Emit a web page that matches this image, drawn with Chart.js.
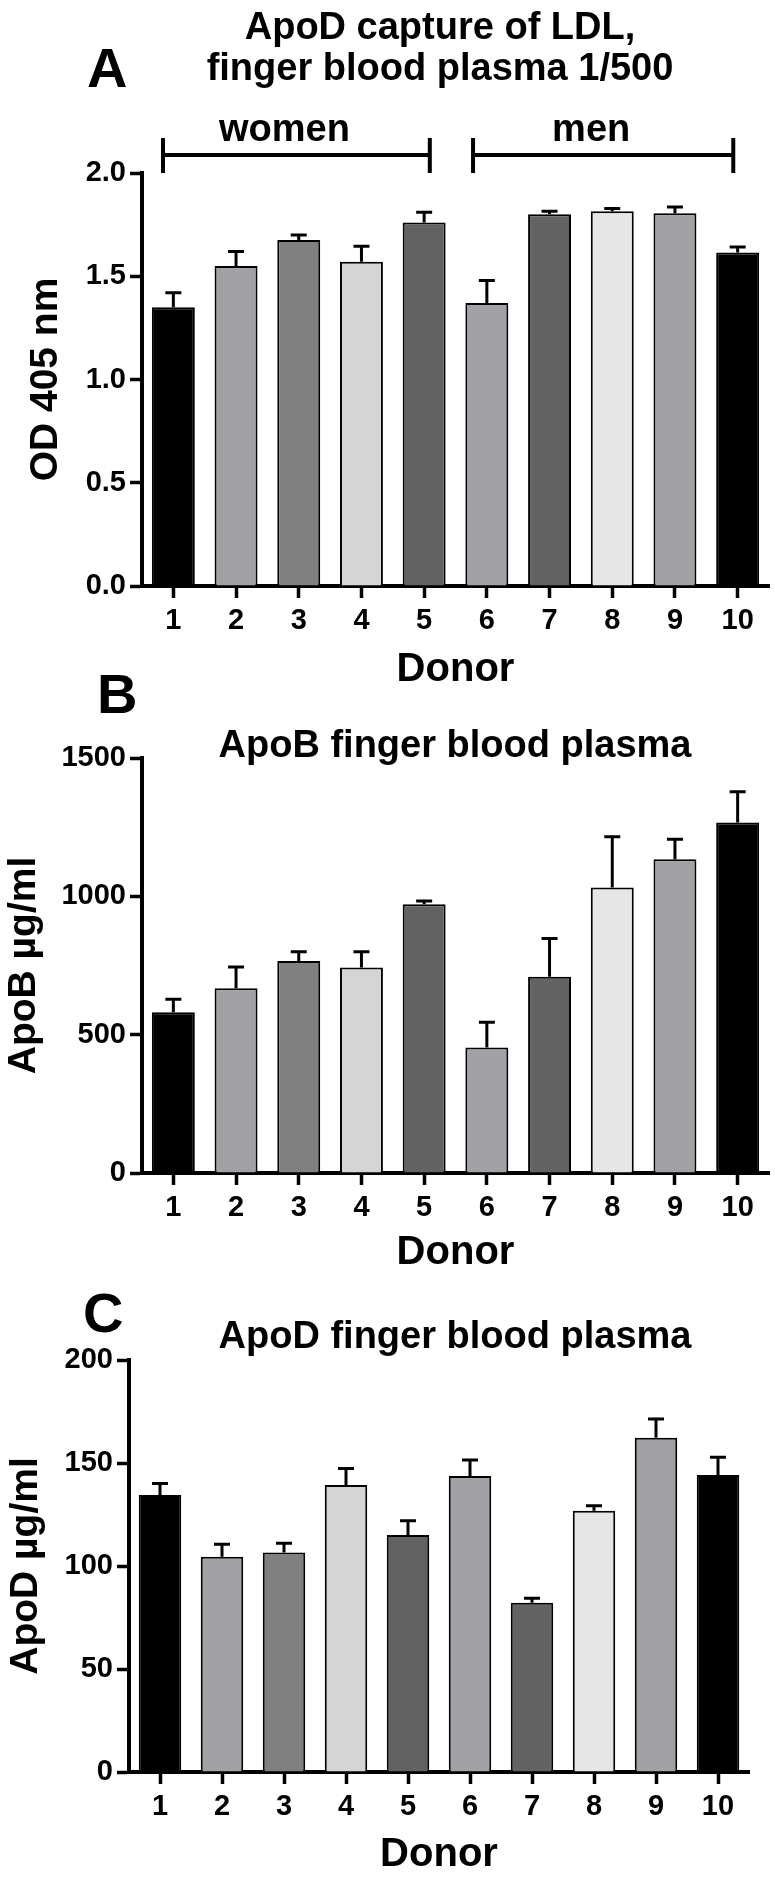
<!DOCTYPE html>
<html>
<head>
<meta charset="utf-8">
<title>ApoD / ApoB finger blood plasma</title>
<script src="https://cdn.jsdelivr.net/npm/chart.js@4.4.1/dist/chart.umd.min.js"></script>
<style>
  html, body { margin: 0; padding: 0; background: #fff; }
  #wrap { position: relative; width: 775px; height: 1880px; }
  canvas { position: absolute; left: 0; }
</style>
</head>
<body>
<div id="wrap">
  <canvas id="chartA" width="775" height="700" style="top:0"></canvas>
  <canvas id="chartB" width="775" height="640" style="top:640px"></canvas>
  <canvas id="chartC" width="775" height="600" style="top:1280px"></canvas>
</div>
<script>
const FONT = '"Liberation Sans", Arial, Helvetica, sans-serif';

// donors and bar fill per donor
const donors = ['1', '2', '3', '4', '5', '6', '7', '8', '9', '10'];
const barColors = ['#000000', '#a2a2a6', '#808080', '#d5d5d5', '#626262',
                   '#a2a2a6', '#636363', '#e6e6e6', '#a2a2a6', '#000000'];

// A: ApoD capture of LDL (OD 405 nm), mean and upper error
const odMean = [1.35, 1.55, 1.675, 1.57, 1.76, 1.37, 1.80, 1.815, 1.805, 1.615];
const odErr  = [0.07, 0.07, 0.025, 0.075, 0.05, 0.11, 0.015, 0.013, 0.03, 0.027];
const odTicks = [0, 0.5, 1.0, 1.5, 2.0];

// women / men brackets (category positions)
const groupNames = ['women', 'men'];
const groupFrom = [-0.165, 4.78];
const groupTo = [4.09, 8.93];

// B: ApoB µg/ml
const apoBMean = [581, 668, 766, 743, 971, 454, 709, 1032, 1134, 1267];
const apoBErr  = [47, 77, 34, 57, 12, 91, 139, 183, 72, 111];
const apoBTicks = [0, 500, 1000, 1500];

// C: ApoD µg/ml
const apoDMean = [134.5, 104.5, 106.6, 139.3, 115, 143.7, 82.2, 126.8, 162.3, 144.2];
const apoDErr  = [5.5, 6, 4.4, 8, 7, 7.8, 2.1, 2.4, 9.1, 8.6];
const apoDTicks = [0, 50, 100, 150, 200];

// error bars (upper only, T shape)
const errorBars = {
    id: 'errorBars',
    afterDatasetsDraw(chart, args, opts) {
        const ctx = chart.ctx;
        const y = chart.scales.y;
        const vals = chart.data.datasets[0].data;
        ctx.save();
        ctx.strokeStyle = '#000';
        ctx.lineWidth = 3;
        chart.getDatasetMeta(0).data.forEach((bar, i) => {
            const top = y.getPixelForValue(vals[i] + opts.errors[i]);
            ctx.beginPath();
            ctx.moveTo(bar.x, bar.y);
            ctx.lineTo(bar.x, top);
            ctx.moveTo(bar.x - 8, top);
            ctx.lineTo(bar.x + 8, top);
            ctx.stroke();
        });
        ctx.restore();
    }
};

// panel letter, title and group brackets
const panelText = {
    id: 'panelText',
    afterDraw(chart, args, opts) {
        const ctx = chart.ctx;
        const area = chart.chartArea;
        ctx.save();
        ctx.fillStyle = '#000';
        ctx.textBaseline = 'alphabetic';
        ctx.textAlign = 'left';
        ctx.font = 'bold 56px ' + FONT;
        ctx.fillText(opts.letter, opts.letterX, opts.letterY);

        ctx.textAlign = 'center';
        ctx.font = 'bold 38px ' + FONT;
        opts.title.forEach((line, i) => ctx.fillText(line, opts.titleX, opts.titleY + i * 41));

        if (opts.groups) {
            const x = chart.scales.x;
            ctx.strokeStyle = '#000';
            ctx.lineWidth = 4;
            opts.groups.names.forEach((name, i) => {
                const xl = x.getPixelForValue(opts.groups.from[i]);
                const xr = x.getPixelForValue(opts.groups.to[i]);
                ctx.beginPath();
                ctx.moveTo(xl, area.top - 18);
                ctx.lineTo(xr, area.top - 18);
                ctx.moveTo(xl, area.top - 35);
                ctx.lineTo(xl, area.top);
                ctx.moveTo(xr, area.top - 35);
                ctx.lineTo(xr, area.top);
                ctx.stroke();
                ctx.fillText(name, (xl + xr) / 2 - 12, area.top - 32);
            });
        }
        ctx.restore();
    }
};

function axisLines() {
    return {
        grid: {
            display: true,
            drawOnChartArea: false,
            drawTicks: true,
            tickLength: 12,
            tickWidth: 3.5,
            tickColor: '#000',
            offset: false
        },
        border: { display: true, color: '#000', width: 4 }
    };
}

function buildChart(id, p) {
    const ctx = document.getElementById(id).getContext('2d');
    return new Chart(ctx, {
        type: 'bar',
        data: {
            labels: donors,
            datasets: [{
                data: p.values,
                backgroundColor: barColors,
                borderColor: '#000',
                borderWidth: 2,
                barPercentage: 0.685,
                categoryPercentage: 1
            }]
        },
        options: {
            responsive: false,
            animation: false,
            layout: { padding: p.padding },
            plugins: {
                legend: { display: false },
                tooltip: { enabled: false },
                errorBars: { errors: p.errors },
                panelText: p.text
            },
            scales: {
                x: {
                    z: 1,
                    ...axisLines(),
                    ticks: {
                        color: '#000',
                        font: { family: FONT, size: 29, weight: 'bold' },
                        padding: 6,
                        maxRotation: 0,
                        autoSkip: false
                    },
                    title: {
                        display: true,
                        text: 'Donor',
                        color: '#000',
                        font: { family: FONT, size: 40, weight: 'bold', lineHeight: 1 },
                        padding: { top: 0, bottom: p.xTitlePad }
                    },
                    afterFit: s => { s.height = p.xHeight; }
                },
                y: {
                    z: 1,
                    min: p.ticks[0],
                    max: p.ticks[p.ticks.length - 1],
                    ...axisLines(),
                    afterBuildTicks: s => { s.ticks = p.ticks.map(v => ({ value: v })); },
                    ticks: {
                        color: '#000',
                        font: { family: FONT, size: 29, weight: 'bold' },
                        padding: 4,
                        callback: v => Number(v).toFixed(p.decimals)
                    },
                    title: {
                        display: true,
                        text: p.yTitle,
                        color: '#000',
                        font: { family: FONT, size: 39, weight: 'bold', lineHeight: 1 },
                        padding: { top: p.yTitlePad, bottom: 0 }
                    },
                    afterFit: s => { s.width = p.yWidth; }
                }
            }
        },
        plugins: [errorBars, panelText]
    });
}

buildChart('chartA', {
    values: odMean, errors: odErr, ticks: odTicks, decimals: 1,
    yTitle: 'OD 405 nm', yTitlePad: 27, yWidth: 142,
    xHeight: 114, xTitlePad: 10,
    padding: { top: 173, right: 6, bottom: 0, left: 0 },
    text: {
        letter: 'A', letterX: 87, letterY: 87,
        title: ['ApoD capture of LDL,', 'finger blood plasma 1/500'], titleX: 440, titleY: 39,
        groups: { names: groupNames, from: groupFrom, to: groupTo }
    }
});

buildChart('chartB', {
    values: apoBMean, errors: apoBErr, ticks: apoBTicks, decimals: 0,
    yTitle: 'ApoB \u00b5g/ml', yTitlePad: 5, yWidth: 142,
    xHeight: 107, xTitlePad: 7,
    padding: { top: 118, right: 6, bottom: 0, left: 0 },
    text: {
        letter: 'B', letterX: 97, letterY: 73,
        title: ['ApoB finger blood plasma'], titleX: 455, titleY: 117
    }
});

buildChart('chartC', {
    values: apoDMean, errors: apoDErr, ticks: apoDTicks, decimals: 0,
    yTitle: 'ApoD \u00b5g/ml', yTitlePad: 7, yWidth: 129,
    xHeight: 108, xTitlePad: 5,
    padding: { top: 80, right: 26, bottom: 0, left: 0 },
    text: {
        letter: 'C', letterX: 83, letterY: 52,
        title: ['ApoD finger blood plasma'], titleX: 455, titleY: 68
    }
});
</script>
</body>
</html>
